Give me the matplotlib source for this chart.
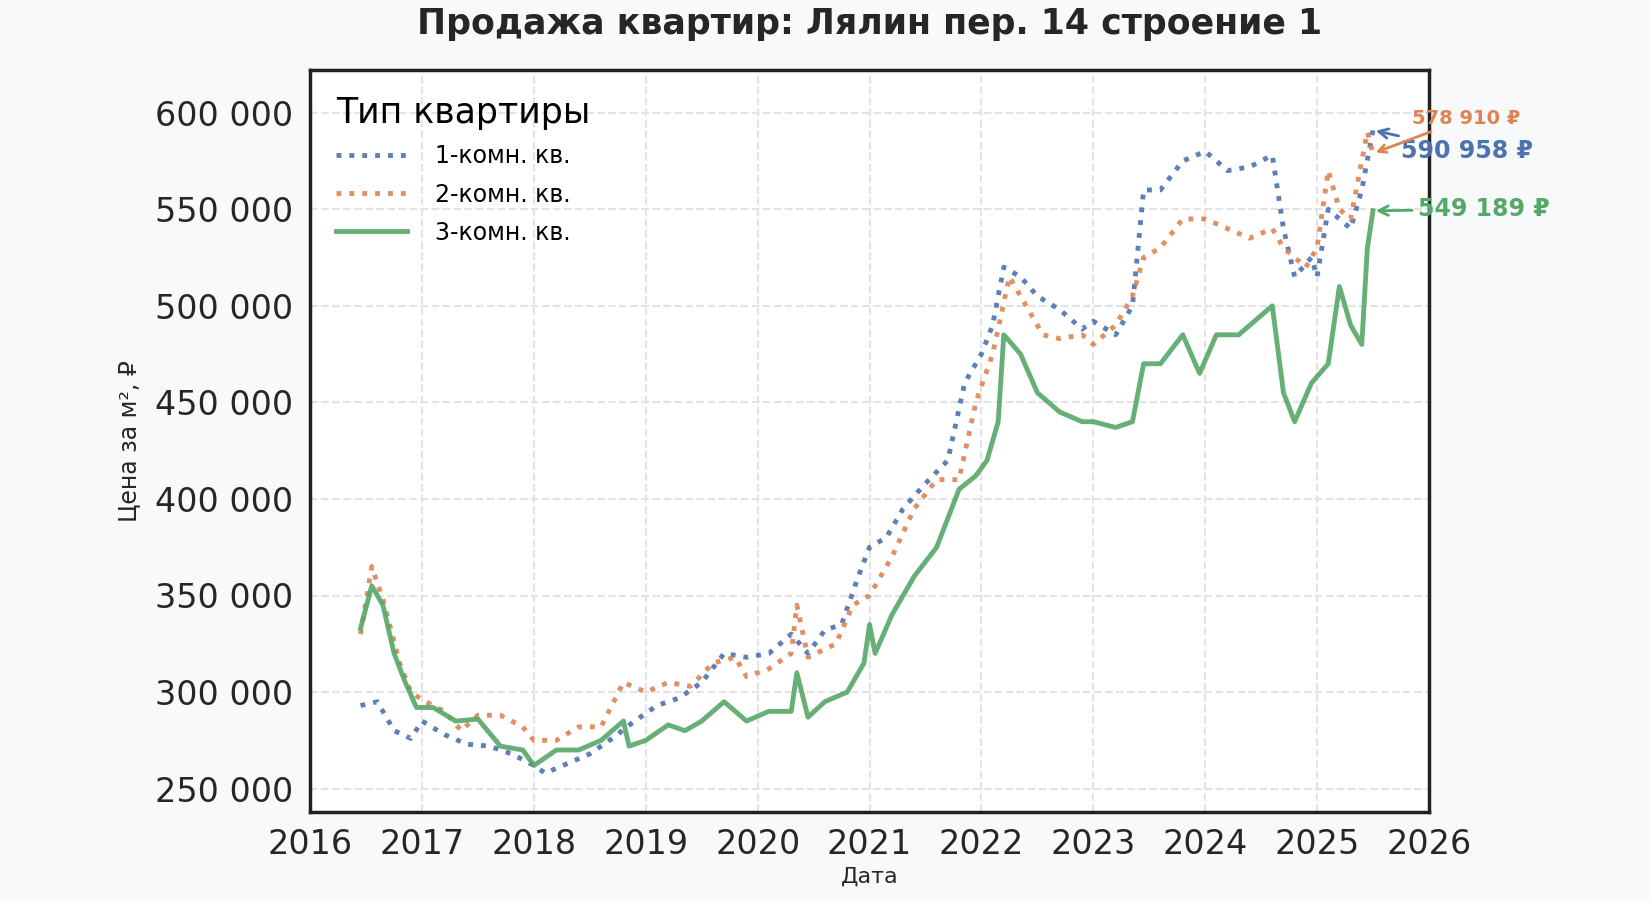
import matplotlib
matplotlib.use("Agg")
import matplotlib.pyplot as plt
from matplotlib.ticker import FuncFormatter

t1 = [2016.45,2016.6,2016.75,2016.9,2017.0,2017.2,2017.4,2017.6,2017.8,2018.0,2018.1,2018.3,2018.5,2018.7,2018.9,2019.1,2019.3,2019.5,2019.7,2019.9,2020.1,2020.3,2020.45,2020.6,2020.75,2020.9,2021.0,2021.15,2021.3,2021.5,2021.7,2021.85,2022.0,2022.1,2022.2,2022.35,2022.5,2022.7,2022.9,2023.0,2023.2,2023.35,2023.45,2023.6,2023.8,2024.0,2024.2,2024.4,2024.6,2024.7,2024.8,2024.95,2025.0,2025.1,2025.2,2025.3,2025.4,2025.5]
v1 = [293,295,280,276,285,278,273,272,268,262,258,263,268,276,285,293,297,305,320,318,320,330,320,332,335,360,375,380,395,408,420,460,475,490,520,515,505,498,488,492,485,500,560,560,575,580,570,572,578,540,515,525,515,550,545,540,560,590.958]
t2 = [2016.45,2016.55,2016.65,2016.8,2016.9,2017.0,2017.2,2017.35,2017.5,2017.7,2017.9,2018.0,2018.2,2018.4,2018.6,2018.8,2019.0,2019.2,2019.4,2019.6,2019.8,2019.9,2020.1,2020.3,2020.35,2020.45,2020.7,2020.85,2021.0,2021.2,2021.4,2021.6,2021.8,2021.95,2022.1,2022.25,2022.4,2022.55,2022.7,2022.9,2023.0,2023.2,2023.35,2023.45,2023.6,2023.8,2024.0,2024.2,2024.4,2024.6,2024.7,2024.9,2025.0,2025.1,2025.2,2025.3,2025.45,2025.5]
v2 = [330,365,348,315,300,296,290,280,288,288,282,275,275,282,282,305,300,305,303,315,318,308,312,320,345,318,325,345,350,370,395,410,410,450,475,515,500,485,483,485,480,490,505,525,530,545,545,540,535,540,530,520,530,570,550,545,590,578.910]
t3 = [2016.45,2016.55,2016.65,2016.75,2016.85,2016.95,2017.1,2017.3,2017.5,2017.7,2017.9,2018.0,2018.2,2018.4,2018.6,2018.8,2018.85,2019.0,2019.2,2019.35,2019.5,2019.7,2019.9,2020.1,2020.3,2020.35,2020.45,2020.6,2020.8,2020.95,2021.0,2021.05,2021.2,2021.4,2021.6,2021.8,2021.95,2022.05,2022.15,2022.2,2022.35,2022.5,2022.7,2022.9,2023.0,2023.2,2023.35,2023.45,2023.6,2023.8,2023.95,2024.1,2024.3,2024.5,2024.6,2024.7,2024.8,2024.95,2025.1,2025.2,2025.3,2025.4,2025.45,2025.5]
v3 = [333,355,345,320,305,292,292,285,286,272,270,262,270,270,275,285,272,275,283,280,285,295,285,290,290,310,287,295,300,315,335,320,340,360,375,405,412,420,440,485,475,455,445,440,440,437,440,470,470,485,465,485,485,495,500,455,440,460,470,510,490,480,530,549.189]
labels = ["1-комн. кв.", "2-комн. кв.", "3-комн. кв."]
colors = ["#4c72b0", "#dd8452", "#55a868"]

plt.rcParams['font.family'] = ['DejaVu Sans']
fig = plt.figure(figsize=(16.5, 9), dpi=100, facecolor="#f8f9fb")
ax = fig.add_axes([0.188, 0.098, 0.678, 0.824])
ax.set_facecolor("white")
series = [(t1, v1), (t2, v2), (t3, v3)]
styles = [dict(ls=":", lw=3.5), dict(ls=":", lw=3.5), dict(ls="-", lw=3.5)]
for (t, v), lab, c, st in zip(series, labels, colors, styles):
    ax.plot(t, [x*1000 for x in v], color=c, label=lab, alpha=0.9, **st)

fs = [17, 14, 17]
for (t, v), c, o, f in zip(series, colors, [(2025.75, 580e3), (2025.85, 597e3), (2025.9, 550e3)], fs):
    ax.annotate(f"{int(round(v[-1]*1000)):,} ₽".replace(",", " "), xy=(t[-1], v[-1]*1000),
                xytext=o, color=c, fontsize=f, fontweight="bold", va="center",
                arrowprops=dict(arrowstyle="->", color=c, lw=2), annotation_clip=False)

ax.set_xlim(2016, 2026)
ax.set_ylim(238e3, 622e3)
ax.set_xticks(range(2016, 2027))
ax.set_yticks(range(250000, 600001, 50000))
ax.yaxis.set_major_formatter(FuncFormatter(lambda x, p: f"{int(x):,}".replace(",", " ")))
ax.tick_params(labelsize=24, colors="#262626", length=0, pad=12)
ax.grid(True, ls="--", lw=1.5, color="#e3e3e3")
for s in ax.spines.values():
    s.set_linewidth(2.5); s.set_color("#222222")
ax.set_xlabel("Дата", fontsize=16, labelpad=4, color="#262626")
ax.set_ylabel("Цена за м², ₽", fontsize=17, labelpad=10, color="#262626")
ax.set_title("Продажа квартир: Лялин пер. 14 строение 1", fontsize=25, fontweight="bold", pad=26, color="#262626")
leg = ax.legend(title="Тип квартиры", fontsize=17, title_fontsize=25, frameon=False, loc="upper left",
                handlelength=3, labelspacing=0.6, borderpad=0.6, handletextpad=1.2)
leg._legend_box.align = "left"
fig.savefig("out.png", facecolor=fig.get_facecolor())
